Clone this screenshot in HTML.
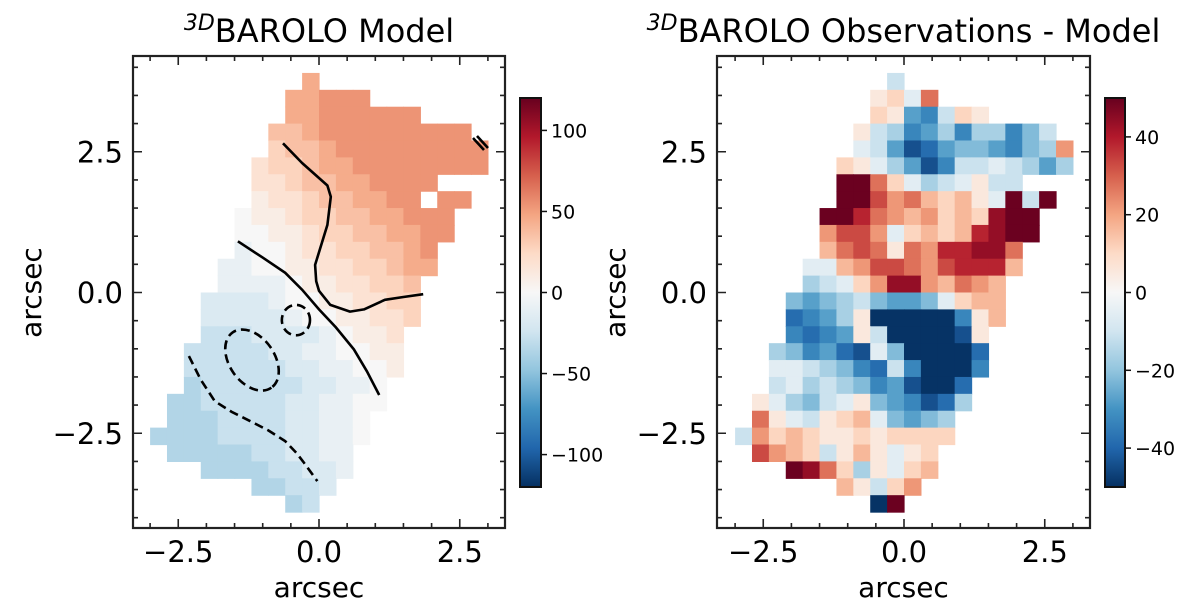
<!DOCTYPE html>
<html><head><meta charset="utf-8">
<style>
html,body{margin:0;padding:0;background:#fff;}
svg{display:block;font-family:"DejaVu Sans","Liberation Sans",sans-serif;}
</style></head>
<body>
<svg id="fig" width="1200" height="611" viewBox="0 0 1200 611" xmlns="http://www.w3.org/2000/svg">
<defs>
<linearGradient id="rdbu" x1="0" y1="1" x2="0" y2="0">
<stop offset="0" stop-color="#053061"/><stop offset="0.1" stop-color="#2166ac"/><stop offset="0.2" stop-color="#4393c3"/><stop offset="0.3" stop-color="#92c5de"/><stop offset="0.4" stop-color="#d1e5f0"/><stop offset="0.5" stop-color="#f7f7f7"/><stop offset="0.6" stop-color="#fddbc7"/><stop offset="0.7" stop-color="#f4a582"/><stop offset="0.8" stop-color="#d6604d"/><stop offset="0.9" stop-color="#b2182b"/><stop offset="1" stop-color="#67001f"/>
</linearGradient>
</defs>
</svg>
<script>
// ---- data ----
const xCenters0 = -2.85, cellStep = 0.3;
const modelRows = [
".........5..........",
"........55666.......",
"........55666666....",
".......445666666666.",
".......3445666666666",
"......23345566666666",
"......22344556666...",
"......1223445566.66.",
".....0112334455666..",
".....0011233445566..",
".....a00122334456...",
"....aa00112233455...",
"....aaaa01122334....",
"...bbbba00112233....",
"...bbbbba0011223....",
"...cccbbbba0112.....",
"..cccccbbaa0011.....",
"..ccccccbbaa001.....",
"..dccccccbbaa0......",
".ddcccccbbaa00......",
".dddccccbbaa0.......",
"ddddccccbbaa0.......",
".dddddccbbaa........",
"...ddddccbba........",
"......ddccb.........",
"........dc.........."];
const residRows = [
".........b..........",
"........12a5........",
"........21efb21.....",
".......1bcfecfccfdb.",
".......abehgeddefdc4",
"......21acehfbbabcec",
"......9952acba1bb...",
"......996453231a9b9.",
".....9975434232899..",
".....4664a23237899..",
".....356515477885...",
"....aa34665467773...",
"....cba248843543....",
"...dedcbdeeda233....",
"...gfec1iiiiif13....",
"...fgfe1biiiih1.....",
"..cdfeghadiiiig.....",
"..aabcdfgbfiiif.....",
"..bacbcdfehiig......",
".1acdba1defhgc......",
".51ab123adedc.......",
"b423211212222.......",
".6432b131a12........",
"...9852c1a23........",
"......31b24.........",
"........i9.........."];
const modelStep = 9, residStep = 5.5;
const modelRange = 120, residRange = 50;
const xTicks = [-2.5, 0.0, 2.5], yTicks = [2.5, 0.0, -2.5];
const xTickLabels = ["\u22122.5", "0.0", "2.5"], yTickLabels = ["2.5", "0.0", "\u22122.5"];
const cbarTicksL = [100, 50, 0, -50, -100];
const cbarTicksR = [40, 20, 0, -20, -40];
const contourSolid1 = [[-0.64,2.65],[-0.3,2.3],[0.15,1.9],[0.21,1.7],[0.15,1.2],[-0.07,0.49],[-0.05,0.2],[0,0.03],[0.2,-0.22],[0.55,-0.34],[0.8,-0.3],[1.17,-0.13],[1.5,-0.08],[1.85,-0.03]];
const contourSolid2 = [[-1.44,0.91],[-1.0,0.62],[-0.6,0.35],[-0.3,0.05],[0,-0.3],[0.3,-0.62],[0.62,-1.01],[0.85,-1.4],[1.07,-1.82]];
const contourDash = [[-2.31,-1.13],[-2.1,-1.55],[-1.85,-1.93],[-1.55,-2.12],[-1.23,-2.28],[-0.9,-2.45],[-0.6,-2.64],[-0.4,-2.85],[-0.27,-3.02],[-0.03,-3.35]];
const ellipse1 = {cx:-0.41, cy:-0.49, rx:0.25, ry:0.27, rot:0};
const ellipse2 = {cx:-1.19, cy:-1.2, rx:0.6, ry:0.4, rot:55};

// ---- helpers ----
const NS = "http://www.w3.org/2000/svg";
const svg = document.getElementById("fig");
const S = 56.3, Y0 = 292.5, TOP = 56, BOT = 528;
function mk(tag, attrs, parent){const e=document.createElementNS(NS,tag);for(const k in attrs)e.setAttribute(k,attrs[k]);(parent||svg).appendChild(e);return e;}
const stops=[[5,48,97],[33,102,172],[67,147,195],[146,197,222],[209,229,240],[247,247,247],[253,219,199],[244,165,130],[214,96,77],[178,24,43],[103,0,31]];
function cmap(t){t=Math.max(0,Math.min(1,t));const f=t*10,i=Math.min(9,Math.floor(f)),u=f-i;const a=stops[i],b=stops[i+1];return "rgb("+a.map((v,k)=>Math.round(v+(b[k]-v)*u)).join(",")+")";}
function lvl(ch){if(ch>='0'&&ch<='9')return +ch;const n="abcdefghi".indexOf(ch);return n>=0?-(n+1):null;}

function panel(opt){
  const g = mk("g",{});
  
  
  const X = v => opt.x0 + v*S, Y = v => Y0 - v*S;
  const cw = cellStep*S, chh = cellStep*S;
  const mg = mk("g",{},g);
  
  
  opt.rows.forEach((row,r)=>{
    const yc = 3.75 - r*cellStep;
    for(let c=0;c<row.length;c++){
      const L = lvl(row[c]); if(L===null) continue;
      const xc = xCenters0 + c*cellStep;
      const v = L*opt.step;
      const rc = mk("rect",{x:(X(xc)-cw/2).toFixed(2),y:(Y(yc)-chh/2).toFixed(2),width:(cw+0.6).toFixed(2),height:(chh+0.6).toFixed(2),fill:cmap((v+opt.range)/(2*opt.range))},mg);
      
      
    }
  });
  if(opt.contours){
    const pts = a => a.map((p,i)=>(i?"L":"M")+X(p[0]).toFixed(1)+" "+Y(p[1]).toFixed(1)).join(" ");
    const c1 = mk("path",{d:pts(contourSolid1),fill:"none",stroke:"#000","stroke-width":2.6,"stroke-linejoin":"round"},g);
    
    
    const c2 = mk("path",{d:pts(contourSolid2),fill:"none",stroke:"#000","stroke-width":2.6},g);
    
    
    const c3 = mk("path",{d:pts(contourDash),fill:"none",stroke:"#000","stroke-width":2.6,"stroke-dasharray":"9 5"},g);
    
    
    [ellipse1,ellipse2].forEach((e,i)=>{
      const el = mk("ellipse",{cx:X(e.cx),cy:Y(e.cy),rx:e.rx*S,ry:e.ry*S,transform:"rotate("+e.rot+" "+X(e.cx)+" "+Y(e.cy)+")",fill:"none",stroke:"#000","stroke-width":2.6,"stroke-dasharray":"9 5"},g);
      
      
    });
    const m = mk("path",{d:"M473 138 L484 150 M477 136 L488 148",stroke:"#000","stroke-width":2.6,fill:"none"},g);
    
    
  }
  const fr = mk("rect",{x:opt.ax0,y:TOP,width:opt.ax1-opt.ax0,height:BOT-TOP,fill:"none",stroke:"#222","stroke-width":2.2},g);
  
  
  let tk = "";
  for(let v=-3;v<=3.01;v+=0.5){const maj=Math.abs(v/2.5-Math.round(v/2.5))<1e-6;const L=maj?9:5;const px=X(v);tk+=`M${px} ${BOT} v${-L} M${px} ${TOP} v${L} `;}
  for(let v=-4;v<=4.01;v+=0.5){const maj=Math.abs(v/2.5-Math.round(v/2.5))<1e-6;const L=maj?9:5;const py=Y(v);tk+=`M${opt.ax0} ${py} h${L} M${opt.ax1} ${py} h${-L} `;}
  const t = mk("path",{d:tk,stroke:"#222","stroke-width":1.6,fill:"none"},g);
  
  
  xTicks.forEach((v,i)=>{const e=mk("text",{x:X(v),y:562,"font-size":29,"text-anchor":"middle"},g);e.textContent=xTickLabels[i];
    
    });
  yTicks.forEach((v,i)=>{const e=mk("text",{x:opt.ax0-10,y:Y(v)+10.5,"font-size":29,"text-anchor":"end"},g);e.textContent=yTickLabels[i];
    
    });
  const xl = mk("text",{x:(opt.ax0+opt.ax1)/2,y:597,"font-size":28,"text-anchor":"middle"},g); xl.textContent="arcsec";
  
  
  const yl = mk("text",{x:0,y:0,"font-size":28,"text-anchor":"middle",transform:`translate(${opt.ax0-92},${Y0}) rotate(-90)`},g); yl.textContent="arcsec";
  
  
  const ti = mk("text",{x:(opt.ax0+opt.ax1)/2,y:42,"font-size":32,"text-anchor":"middle"},g);
  
  
  const sup = mk("tspan",{"font-size":22,"font-style":"italic",dy:-12},ti); sup.textContent="3D";
  const rest = mk("tspan",{dy:12},ti); rest.textContent=opt.title;
  const cb = mk("rect",{x:opt.cbx,y:98,width:opt.cbw,height:389,fill:"url(#rdbu)",stroke:"#111","stroke-width":2},g);
  
  
  const CY = v => 292.5 - v/opt.range*194.5;
  opt.cticks.forEach(v=>{
    const l = mk("path",{d:`M${opt.cbx+opt.cbw} ${CY(v)} h6`,stroke:"#111","stroke-width":1.5},g);
    
    
    const e = mk("text",{x:opt.cbx+opt.cbw+10,y:CY(v)+7,"font-size":19},g); e.textContent=(v<0?"\u2212":"")+Math.abs(v);
    
    
  });
}
panel({name:"model-panel",x0:319,ax0:133,ax1:505,rows:modelRows,step:modelStep,range:modelRange,contours:true,title:"BAROLO Model",cbx:520,cbw:21,cticks:cbarTicksL});
panel({name:"residual-panel",x0:904,ax0:717,ax1:1090,rows:residRows,step:residStep,range:residRange,contours:false,title:"BAROLO Observations - Model",cbx:1105,cbw:20,cticks:cbarTicksR});
</script>
</body></html>
